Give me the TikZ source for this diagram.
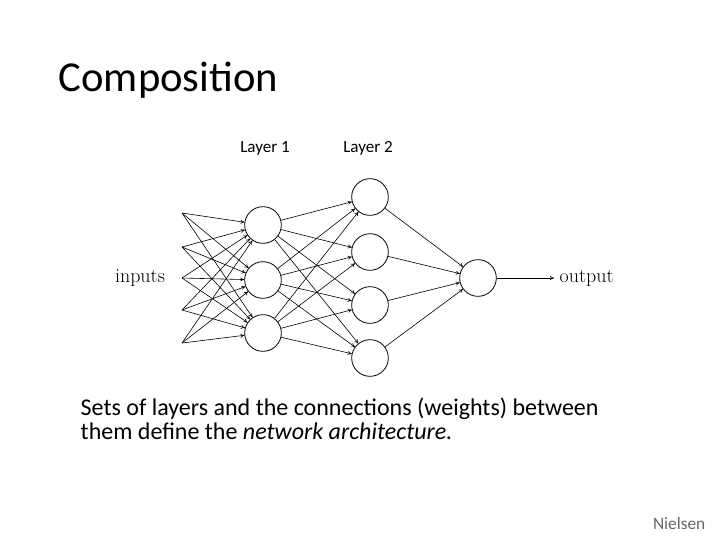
\documentclass[tikz,border=0pt]{standalone}
\usepackage{fontspec}
\newfontfamily\carlitofont{Carlito}
\usetikzlibrary{arrows.meta}
\begin{document}
\begin{tikzpicture}[x=0.75pt,y=-0.75pt,
  neuron/.style={circle,draw,line width=0.6pt,minimum size=27.5pt,inner sep=0pt},
  conn/.style={line width=0.45pt,-{To[length=3pt,width=3pt]}},
  lm/.style={font=\fontsize{15}{17}\selectfont}]
\useasboundingbox (0,0) rectangle (720,540);
\node[anchor=west,font=\carlitofont\fontsize{32}{38}\selectfont] (title) at (54,80) {Composition};
\node[font=\carlitofont\fontsize{12.8}{15}\selectfont] (l1) at (265,148) {Layer 1};
\node[font=\carlitofont\fontsize{12.8}{15}\selectfont] (l2) at (368,148) {Layer 2};
\foreach \i/\y in {1/213,2/247,3/278,4/310,5/343} \coordinate (in\i) at (182,\y);
\foreach \i/\y in {1/225,2/280,3/333} \node[neuron] (a\i) at (263,\y) {};
\foreach \i/\y in {1/197,2/252,3/305,4/358} \node[neuron] (b\i) at (370,\y) {};
\node[neuron] (o) at (478,278) {};
\foreach \i in {1,...,5} \foreach \j in {1,2,3} \draw[conn] (in\i) -- (a\j);
\foreach \i in {1,2,3} \foreach \j in {1,...,4} \draw[conn] (a\i) -- (b\j);
\foreach \j in {1,...,4} \draw[conn] (b\j) -- (o);
\coordinate (oend) at (554,278);
\draw[conn] (o) -- (oend);
\node[lm,anchor=west] (outl) at (555,278) {output};
\node[lm] (inl) at (140,278) {inputs};
\node[anchor=north west,align=left,font=\carlitofont\fontsize{18}{18}\selectfont] (cap) at (76,393)
 {Sets of layers and the connections (weights) between\\ them define the \textit{network architecture.}};
\node[anchor=east,text=black!60,font=\carlitofont\fontsize{13}{15}\selectfont] (src) at (710,524) {Nielsen};
\end{tikzpicture}
\end{document}
